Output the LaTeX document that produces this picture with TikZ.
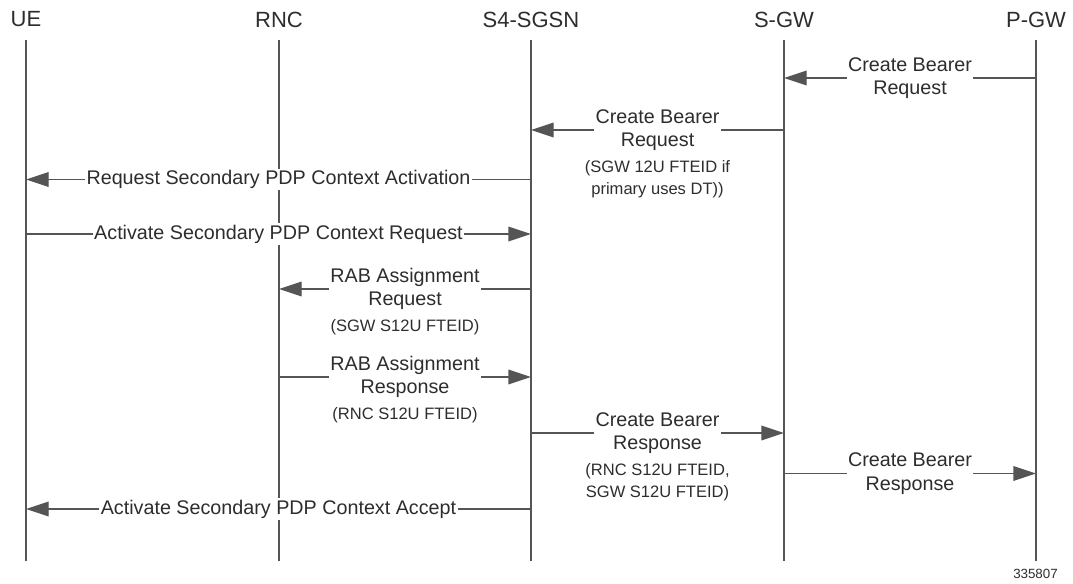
\documentclass[tikz,border=0pt]{standalone}
\usepackage{fontspec}
\setmainfont{Liberation Sans}
\usetikzlibrary{arrows.meta,positioning}
\definecolor{lineg}{RGB}{85,85,85}
\definecolor{textg}{RGB}{45,45,45}

\begin{document}
\begin{tikzpicture}[x=0.75pt,y=-0.75pt]
		\tikzstyle{every node}=[text=textg]
		\tikzstyle{head} = [inner sep=0pt, font=\fontsize{16.5}{20}\selectfont]
		\tikzstyle{life} = [draw=lineg, line width=1pt]
		\tikzstyle{msg} = [draw=lineg, line width=1pt, -{Triangle[length=17pt,width=11pt]}]
		\tikzstyle{lbl} = [fill=white, align=center, inner xsep=1pt, inner ysep=1pt, font=\fontsize{14.8}{17.6}\selectfont]
		\tikzstyle{note} = [align=center, inner sep=1pt, font=\fontsize{12.4}{16.5}\selectfont]

		\useasboundingbox (0,0) rectangle (1073,583);

		% participants and lifelines
		\node[head] (ue) at (26,19.5) {UE};
		\node[head] (rnc) at (279,19.5) {RNC};
		\node[head] (sgsn) at (531,19.5) {S4-SGSN};
		\node[head] (sgw) at (784,19.5) {S-GW};
		\node[head] (pgw) at (1036,19.5) {P-GW};
		\draw[life] (ue |- 0,40) -- (ue |- 0,561);
		\draw[life] (rnc |- 0,40) -- (rnc |- 0,561);
		\draw[life] (sgsn |- 0,40) -- (sgsn |- 0,561);
		\draw[life] (sgw |- 0,40) -- (sgw |- 0,561);
		\draw[life] (pgw |- 0,40) -- (pgw |- 0,561);

		% messages
		\draw[msg] (pgw |- 0,78) -- (sgw |- 0,78) node[midway, lbl](m1){Create Bearer\\Request};
		\draw[msg] (sgw |- 0,130) -- (sgsn |- 0,130) node[midway, lbl](m2){Create Bearer\\Request};
		\node[note, below=4.5pt of m2](n2){(SGW 12U FTEID if\\primary uses DT))};
		\draw[msg] (sgsn |- 0,179.5) -- (ue |- 0,179.5) node[midway, lbl](m3){Request Secondary PDP Context Activation};
		\draw[msg] (ue |- 0,234) -- (sgsn |- 0,234) node[midway, lbl](m4){Activate Secondary PDP Context Request};
		\draw[msg] (sgsn |- 0,289) -- (rnc |- 0,289) node[midway, lbl](m5){RAB Assignment\\Request};
		\node[note, below=4.5pt of m5](n5){(SGW S12U FTEID)};
		\draw[msg] (rnc |- 0,377) -- (sgsn |- 0,377) node[midway, lbl](m6){RAB Assignment\\Response};
		\node[note, below=4.5pt of m6](n6){(RNC S12U FTEID)};
		\draw[msg] (sgsn |- 0,433) -- (sgw |- 0,433) node[midway, lbl](m7){Create Bearer\\Response};
		\node[note, below=4.5pt of m7](n7){(RNC S12U FTEID,\\SGW S12U FTEID)};
		\draw[msg] (sgw |- 0,473.5) -- (pgw |- 0,473.5) node[midway, lbl](m8){Create Bearer\\Response};
		\draw[msg] (sgsn |- 0,509) -- (ue |- 0,509) node[midway, lbl](m9){Activate Secondary PDP Context Accept};

		\node[anchor=east, inner sep=0pt, font=\fontsize{10}{12}\selectfont](figno) at (1058,574){335807};
	\end{tikzpicture}
\end{document}
